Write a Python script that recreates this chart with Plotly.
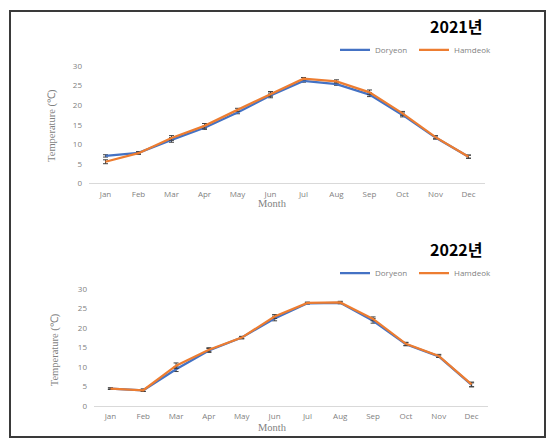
import plotly.graph_objects as go

months = ["Jan", "Feb", "Mar", "Apr", "May", "Jun", "Jul", "Aug", "Sep", "Oct", "Nov", "Dec"]

doryeon_2021 = [7.0, 7.8, 11.1, 14.2, 18.1, 22.5, 26.2, 25.4, 22.7, 17.5, 11.7, 6.8]
hamdeok_2021 = [5.5, 7.7, 11.6, 14.7, 18.8, 22.9, 26.8, 26.1, 23.3, 17.9, 11.8, 6.8]
doryeon_2021_err = [0.3, 0.3, 0.6, 0.4, 0.3, 0.6, 0.3, 0.3, 0.5, 0.5, 0.4, 0.4]
hamdeok_2021_err = [0.5, 0.3, 0.6, 0.6, 0.4, 0.6, 0.3, 0.4, 0.6, 0.5, 0.4, 0.4]

doryeon_2022 = [4.4, 4.0, 9.4, 14.2, 17.5, 22.4, 26.3, 26.4, 21.8, 15.8, 12.7, 5.4]
hamdeok_2022 = [4.4, 4.0, 10.3, 14.4, 17.5, 22.9, 26.4, 26.5, 22.3, 15.9, 12.8, 5.5]
doryeon_2022_err = [0.2, 0.3, 0.6, 0.5, 0.3, 0.6, 0.2, 0.2, 0.6, 0.4, 0.3, 0.5]
hamdeok_2022_err = [0.2, 0.3, 0.7, 0.5, 0.3, 0.5, 0.2, 0.3, 0.5, 0.4, 0.4, 0.6]

series_names = ["Doryeon", "Hamdeok"]
colors = ["#4472C4", "#ED7D31"]
titles = ["2021년", "2022년"]
y_ticks = [0, 5, 10, 15, 20, 25, 30]

W, H = 558, 445
fig = go.Figure()

def px_x(v):
    return v / W

def px_y(v):
    return 1 - v / H

panels = [
    dict(data=[(doryeon_2021, doryeon_2021_err), (hamdeok_2021, hamdeok_2021_err)],
         xa="x", ya="y", legend="legend",
         xdom=[px_x(89), px_x(485)], ydom=[px_y(181.7), px_y(61.7)],
         title_y=21, legend_y=45, ytitle_x=52, ytitle_y=123, month_x=272, month_y=203),
    dict(data=[(doryeon_2022, doryeon_2022_err), (hamdeok_2022, hamdeok_2022_err)],
         xa="x2", ya="y2", legend="legend2",
         xdom=[px_x(94), px_x(488)], ydom=[px_y(410), px_y(290)],
         title_y=249, legend_y=274, ytitle_x=55, ytitle_y=353, month_x=272, month_y=432),
]

tick_font = dict(family="Open Sans", size=8, color="#7f7f7f")
serif_font = dict(family="Liberation Serif", size=10.5, color="#7f7f7f")

for i, p in enumerate(panels):
    for (vals, errs), name, col in zip(p["data"], series_names, colors):
        fig.add_trace(go.Scatter(
            x=months, y=vals, name=name, mode="lines",
            line=dict(color=col, width=2.25),
            error_y=dict(type="data", array=errs, visible=True, color="#404040", thickness=1, width=2.5),
            xaxis=p["xa"], yaxis=p["ya"], legend=p["legend"],
        ))
    sfx = "" if i == 0 else "2"
    fig.update_layout(**{
        "xaxis" + sfx: dict(domain=p["xdom"], anchor="y" + sfx, type="category",
                            range=[-0.5, 11.5], showline=True, linecolor="#D9D9D9", linewidth=1,
                            showgrid=False, zeroline=False, ticks="", tickfont=tick_font,
                            ticklabelstandoff=3, fixedrange=True),
        "yaxis" + sfx: dict(domain=p["ydom"], anchor="x" + sfx, range=[0, 30], tickvals=y_ticks,
                            showline=False, showgrid=False, zeroline=False, ticks="",
                            tickfont=tick_font, ticklabelstandoff=6, fixedrange=True),
        p["legend"]: dict(orientation="h", x=px_x(335), y=px_y(p["legend_y"]), xanchor="left",
                          yanchor="middle", font=dict(family="Open Sans", size=8, color="#7f7f7f"),
                          bgcolor="rgba(0,0,0,0)", entrywidth=34, itemwidth=30,
                          tracegroupgap=0),
    })
    fig.add_annotation(text=titles[i], xref="paper", yref="paper", x=px_x(484), y=px_y(p["title_y"]),
                       xanchor="right", yanchor="middle", showarrow=False,
                       font=dict(family="Noto Sans CJK KR", size=16, color="#000000", weight="bold"))
    fig.add_annotation(text="Temperature (℃)", xref="paper", yref="paper",
                       x=px_x(p["ytitle_x"]), y=px_y(p["ytitle_y"]), xanchor="center", yanchor="middle",
                       textangle=-90, showarrow=False, font=serif_font)
    fig.add_annotation(text="Month", xref="paper", yref="paper",
                       x=px_x(p["month_x"]), y=px_y(p["month_y"]), xanchor="center", yanchor="middle",
                       showarrow=False, font=serif_font)

fig.add_shape(type="rect", xref="paper", yref="paper",
              x0=px_x(10), x1=px_x(545), y0=px_y(442), y1=px_y(5),
              line=dict(color="#3a3a3a", width=2), fillcolor="rgba(0,0,0,0)")

fig.update_layout(width=W, height=H, margin=dict(l=0, r=0, t=0, b=0),
                  paper_bgcolor="white", plot_bgcolor="white", showlegend=True)

fig.write_html("out.html", config={"displayModeBar": False},
               post_script="document.body.style.margin='0';document.body.style.overflow='hidden';")
